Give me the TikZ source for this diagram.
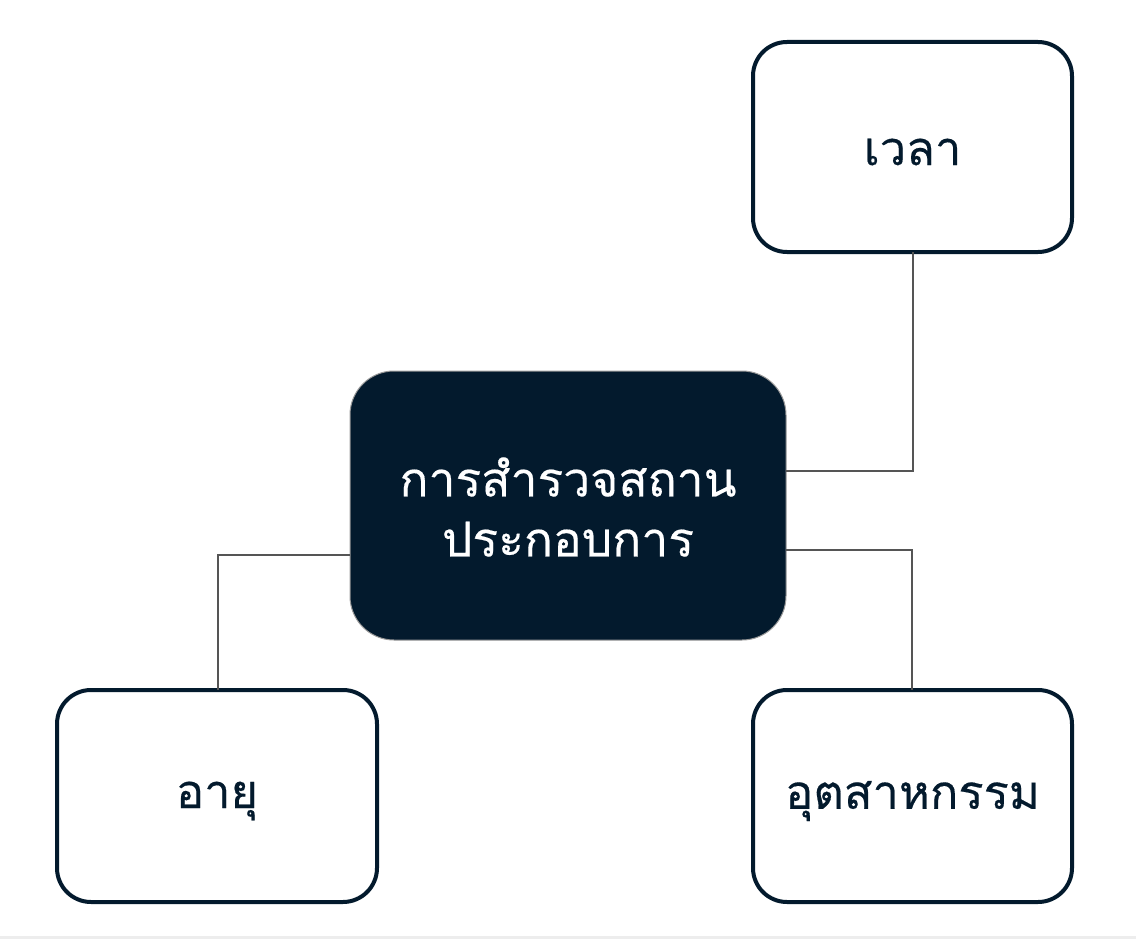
\documentclass[tikz,border=0pt]{standalone}
\usepackage{fontspec}
\newfontfamily\thaifont[Script=Thai,FakeBold=0.35]{Loma}
\definecolor{navy}{HTML}{031A2D}
\definecolor{wire}{HTML}{555555}
\begin{document}
\begin{tikzpicture}[x=1pt,y=-1pt,
  leaf/.style={draw=navy,line width=4pt,fill=white,rounded corners=34pt},
  hub/.style={draw=gray!80,line width=1pt,fill=navy,rounded corners=44pt},
  lbl/.style={font=\thaifont\fontsize{47}{56}\selectfont,text=navy,align=center},
  hublbl/.style={font=\thaifont\fontsize{48}{60}\selectfont,text=white,align=center},
  conn/.style={draw=wire,line width=1.1pt}]
\useasboundingbox (0,0) rectangle (1136,939);
\fill[white] (0,0) rectangle (1136,939);
\fill[black!7] (0,936) rectangle (1136,939);
% boxes
\draw[hub] (350,371) rectangle (786,640);
\node[hublbl] (hub) at (568,507) {การสำรวจสถาน\\ประกอบการ};
\coordinate (hubR1) at (786,471);
\coordinate (hubR2) at (786,550);
\coordinate (hubL) at (350,555);
\draw[leaf] (753,42) rectangle (1072,252);
\node[lbl] (time) at (912.5,152) {เวลา};
\coordinate (timeB) at (913,252);
\draw[leaf] (57,690) rectangle (377,902);
\node[lbl] (age) at (217,801) {อายุ};
\coordinate (ageT) at (218,690);
\draw[leaf] (753,690) rectangle (1072,902);
\node[lbl] (ind) at (912.5,801) {อุตสาหกรรม};
\coordinate (indT) at (912,690);
% connectors
\draw[conn] (hubR1) -| (timeB);
\draw[conn] (hubL) -| (ageT);
\draw[conn] (hubR2) -| (indT);
\end{tikzpicture}
\end{document}
